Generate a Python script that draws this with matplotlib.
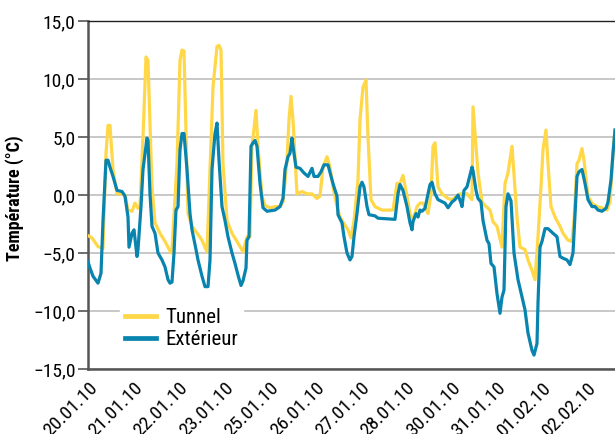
import matplotlib
matplotlib.use("Agg")
import matplotlib.pyplot as plt
from matplotlib import font_manager as fm

# ---- data (x = sample position along the category axis, y = °C) ----
tunnel_x = [0, 4, 10, 15, 18, 20, 22, 25, 29, 34, 37, 40, 44, 47, 50, 52, 55, 58, 60, 64,
            67, 72, 77, 83, 84, 89, 92, 94, 96, 100, 104, 110, 114, 119, 122, 125, 129, 131,
            133, 135, 139, 144, 149, 155, 159, 162, 164, 168, 170, 174, 177, 182, 187, 192,
            195, 199, 201, 203, 205, 209, 214, 219, 224, 229, 232, 235, 239, 242, 245, 249,
            252, 257, 260, 263, 266, 270, 272, 275, 278, 280, 283, 287, 294, 305, 309, 312,
            315, 319, 322, 325, 329, 332, 335, 340, 343, 345, 347, 350, 354, 360, 364, 369,
            372, 379, 384, 385, 388, 390, 394, 397, 402, 405, 409, 414, 417, 420, 424, 425,
            429, 432, 437, 440, 444, 447, 450, 453, 455, 458, 460, 463, 467, 472, 475, 480,
            484, 486, 489, 491, 494, 496, 500, 504, 509, 514, 519, 522, 525, 527]
tunnel_y = [-3.5, -3.7, -4.45, -4.6, 3.6, 6.0, 6.0, 2.2, 0.1, 0.1, 0.0, -1.3, -1.4, -0.7,
            -1.15, -1.0, 5.0, 11.9, 11.6, 0.7, -2.4, -3.3, -4.0, -5.0, -4.7, 2.7, 11.6, 12.5,
            12.4, -1.6, -2.7, -3.4, -3.9, -4.9, 2.2, 9.3, 12.8, 12.9, 12.5, 2.7, -2.2, -3.3,
            -4.0, -4.9, -3.6, -3.6, 4.2, 7.3, 4.2, -0.1, -0.9, -1.1, -1.0, -1.0, -0.6, 3.0,
            6.5, 8.5, 6.5, 0.1, 0.3, 0.1, 0.1, -0.3, -0.1, 2.4, 3.3, 2.4, 0.7, -1.0, -1.9,
            -2.6, -3.0, -3.7, -2.2, 1.3, 6.5, 9.3, 9.9, 5.0, -0.4, -1.0, -1.3, -1.3, 1.0, 1.0,
            1.7, -0.1, -1.6, -2.2, -1.0, -0.7, -0.7, -1.6, 0.1, 4.2, 4.5, 0.7, 0.1, -0.3, -0.4,
            -0.1, 0.1, 0.1, -0.4, 7.6, 4.2, 1.9, -0.6, -0.9, -1.3, -2.3, -2.7, -4.5, 1.0, 1.9,
            4.2, 3.0, -1.9, -4.5, -4.7, -5.6, -6.5, -7.3, -3.6, 0.7, 3.9, 5.6, 2.7, -1.0, -1.9,
            -2.7, -3.3, -3.9, -4.0, -2.2, 2.7, 3.0, 4.0, 3.0, -0.1, -0.7, -1.0, -1.1, -1.3,
            -0.6, 3.6, 5.6]

ext_x = [0, 2, 5, 10, 13, 15, 18, 20, 22, 25, 29, 34, 37, 40, 41, 44, 46, 49, 50, 53, 55,
         59, 60, 62, 64, 67, 70, 74, 77, 80, 82, 84, 86, 88, 90, 92, 94, 96, 99, 102, 104,
         108, 110, 114, 117, 120, 122, 124, 127, 129, 131, 134, 137, 140, 144, 147, 150, 153,
         155, 158, 159, 161, 163, 165, 167, 169, 172, 175, 179, 187, 192, 195, 197, 200, 202,
         204, 205, 208, 212, 216, 220, 224, 226, 230, 233, 236, 240, 244, 246, 249, 250, 254,
         256, 259, 262, 264, 266, 269, 272, 274, 276, 279, 281, 287, 290, 307, 310, 312, 315,
         319, 322, 324, 325, 328, 330, 332, 334, 337, 340, 342, 344, 347, 350, 357, 360, 364,
         367, 370, 373, 374, 376, 379, 382, 384, 385, 388, 390, 393, 395, 399, 401, 403, 406,
         409, 412, 414, 416, 418, 420, 423, 426, 430, 434, 437, 440, 444, 446, 449, 450, 452,
         454, 457, 460, 465, 469, 472, 475, 479, 482, 485, 489, 491, 494, 497, 500, 504, 507,
         510, 514, 518, 520, 523, 525, 527]
ext_y = [-5.75, -6.3, -7.0, -7.6, -6.75, -2.2, 3.0, 3.0, 2.4, 1.6, 0.4, 0.3, -0.1, -1.9,
         -4.5, -3.3, -3.0, -5.3, -4.7, -1.0, 2.2, 4.9, 4.7, 0.1, -2.7, -3.3, -5.0, -5.6, -6.2,
         -7.3, -7.6, -7.5, -5.0, -1.3, -1.0, 3.9, 5.3, 5.3, 2.2, -1.6, -3.0, -4.7, -5.6, -7.0,
         -7.9, -7.9, -5.6, 2.2, 5.3, 6.2, 3.0, -1.0, -2.2, -3.6, -5.0, -5.9, -6.9, -7.8, -7.4,
         -6.3, -3.9, -3.6, 4.2, 4.5, 4.7, 4.2, 1.0, -1.1, -1.4, -1.3, -1.0, -0.3, 2.2, 3.3,
         3.6, 4.9, 4.2, 2.4, 2.3, 1.9, 1.6, 2.3, 1.6, 1.6, 2.0, 2.6, 2.6, 1.3, 0.7, -0.1,
         -1.7, -2.4, -3.6, -5.0, -5.6, -5.3, -3.6, -1.6, 0.7, 1.1, 0.7, -1.0, -1.7, -1.8,
         -2.0, -2.1, 0.1, 0.9, 0.4, -1.0, -2.4, -3.0, -2.3, -1.6, -1.9, -1.3, -1.4, -1.15,
         0.1, 0.9, 1.1, 0.1, -0.4, -0.7, -1.1, -0.6, -0.4, 0.0, -0.7, -1.0, 0.4, 0.7, 1.7,
         2.4, 2.1, 0.4, -0.3, -0.6, -2.2, -3.9, -4.2, -5.9, -6.2, -8.5, -10.2, -8.8, -8.2,
         -1.0, 0.1, -0.5, -5.0, -7.3, -8.8, -9.9, -11.9, -13.4, -13.8, -12.8, -9.3, -4.5,
         -4.0, -2.9, -2.9, -3.3, -3.6, -5.3, -5.45, -5.6, -6.0, -5.0, 1.6, 2.0, 2.2, 1.0,
         -0.4, -1.0, -1.0, -1.3, -1.4, -1.15, -0.6, 1.3, 3.6, 5.6]

tick_labels = ["20.01.10", "21.01.10", "22.01.10", "23.01.10", "25.01.10", "26.01.10",
               "27.01.10", "28.01.10", "30.01.10", "31.01.10", "01.02.10", "02.02.10"]
tick_step = 45.4
y_ticks = [-15, -10, -5, 0, 5, 10, 15]
series_names = ["Tunnel", "Extérieur"]

# ---- font: prefer a condensed sans face ----
entries = fm.fontManager.ttflist
names = {f.name for f in entries}
family = None
stretch = "normal"
for cand in ["Liberation Sans Narrow", "Roboto Condensed", "Open Sans Condensed",
             "Noto Sans Condensed", "Arial Narrow"]:
    if cand in names:
        family = cand
        break
if family is None:
    for f in entries:
        if f.name == "DejaVu Sans" and str(f.stretch) in ("condensed", "semi-condensed", "600", "700"):
            family = "DejaVu Sans"
            stretch = "condensed"
            break
if family is None:
    family = "Open Sans" if "Open Sans" in names else "DejaVu Sans"
plt.rcParams["font.family"] = [family, "DejaVu Sans"]
plt.rcParams["font.stretch"] = stretch
FS = 13 if family != "Open Sans" else 12

YELLOW = "#FFD747"
BLUE = "#0884AF"

fig = plt.figure(figsize=(6.15, 4.34), dpi=100)
ax = fig.add_axes([88/615, 1 - 369/434, 1 - 88/615, (369 - 21)/434])

ax.plot(tunnel_x, tunnel_y, color=YELLOW, lw=2.3, solid_joinstyle="round", label=series_names[0], zorder=3)
ax.plot(ext_x, ext_y, color=BLUE, lw=2.3, solid_joinstyle="round", label=series_names[1], zorder=4)

ax.set_xlim(0, 527)
ax.set_ylim(-15, 15)
ax.set_yticks(y_ticks)
ax.set_yticklabels([f"{v:.1f}".replace(".", ",").replace("-", "\u2212") for v in y_ticks], fontsize=FS + 1)
ax.set_xticks([i * tick_step for i in range(len(tick_labels))])
ax.set_xticklabels(tick_labels, rotation=45, ha="right", rotation_mode="anchor", fontsize=FS + 1)
ax.tick_params(axis="x", length=0, pad=7)
ax.tick_params(axis="y", length=7, width=1.2, color="#555555", pad=2)

ax.grid(axis="y", color="#c4c4c4", lw=1.3, zorder=0)
ax.spines["right"].set_visible(False)
ax.spines["top"].set_color("#222222")
ax.spines["top"].set_linewidth(1.0)
ax.spines["left"].set_color("#555555")
ax.spines["left"].set_linewidth(1.8)
ax.spines["bottom"].set_color("#555555")
ax.spines["bottom"].set_linewidth(1.8)

ax.set_ylabel("Température (°C)", fontsize=FS, fontweight="bold")
ax.yaxis.set_label_coords(-0.122, 0.49)

leg = ax.legend(loc="upper left", bbox_to_anchor=(0.06, 0.19), frameon=True, fontsize=FS + 2,
                handlelength=1.5, handletextpad=0.45, labelspacing=0.15, borderpad=0.25,
                borderaxespad=0)
leg.get_frame().set_edgecolor("white")
leg.get_frame().set_facecolor("white")
leg.get_frame().set_alpha(1)
for lh in leg.get_lines():
    lh.set_linewidth(3.4)

fig.savefig("out.png", dpi=100)
